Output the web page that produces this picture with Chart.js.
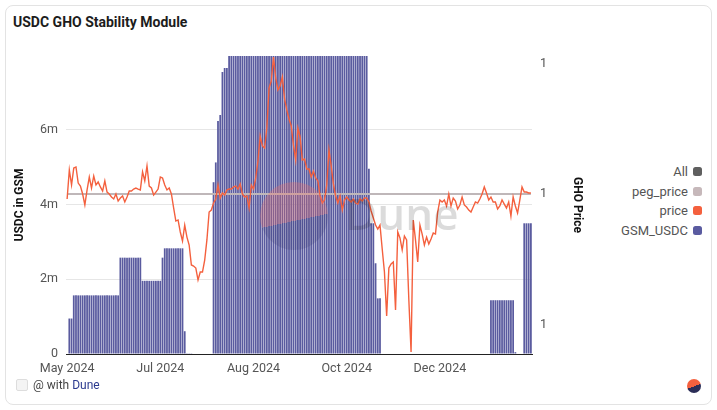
<!DOCTYPE html>
<html>
<head>
<meta charset="utf-8">
<script src="https://cdn.jsdelivr.net/npm/chart.js@4.4.1/dist/chart.umd.min.js"></script>
<style>
html,body{margin:0;padding:0;background:#fff;width:717px;height:410px;overflow:hidden;font-family:Roboto,"Open Sans",sans-serif;}
.card{position:absolute;left:5px;top:5px;width:707px;height:400px;border:1px solid #e3e3e3;border-radius:8px;box-sizing:border-box;}
.title{position:absolute;left:13px;top:14px;font-size:14px;font-weight:700;color:#1c1c1c;letter-spacing:0;}
#wrap{position:absolute;left:0;top:40px;width:600px;height:340px;}
.legend{position:absolute;right:15px;top:162px;font-size:13px;color:#555;}
.legend .item{display:flex;justify-content:flex-end;align-items:center;height:19.5px;}
.legend .sw{width:9px;height:9px;border-radius:2.5px;margin-left:5px;}
.footer{position:absolute;left:16px;top:378px;font-size:12px;color:#444;display:flex;align-items:center;}
.footer .ic{width:10px;height:10px;border:1px solid #ddd;background:#f4f4f4;border-radius:2px;margin-right:5px;}
.footer .dn{color:#2b3a8f;margin-left:3px;}
.logo{position:absolute;left:687px;top:379px;width:14px;height:14px;border-radius:50%;background:linear-gradient(160deg,#f4603e 52%,#2b2d57 52%);}
.wm-circle{position:absolute;left:260px;top:182px;width:68px;height:68px;border-radius:50%;background:linear-gradient(168deg,rgba(244,110,100,0.30) 56%,rgba(40,40,95,0.16) 56%);pointer-events:none;}
.wm-text{position:absolute;left:345px;top:183px;font-size:44px;font-weight:600;color:rgba(0,0,0,0.14);pointer-events:none;font-family:"Open Sans",Roboto,sans-serif;}
</style>
</head>
<body>
<div class="card"></div>
<div class="title">USDC GHO Stability Module</div>
<div id="wrap"><canvas id="c" width="600" height="340"></canvas></div>
<div class="wm-circle"></div>
<div class="wm-text">Dune</div>
<div class="legend">
  <div class="item">All<span class="sw" style="background:#5f5f5f"></span></div>
  <div class="item">peg_price<span class="sw" style="background:#c6b8ba"></span></div>
  <div class="item">price<span class="sw" style="background:#f4603e"></span></div>
  <div class="item">GSM_USDC<span class="sw" style="background:#5a5ba0"></span></div>
</div>
<div class="footer"><span class="ic"></span>@ with<span class="dn">Dune</span></div>
<div class="logo"></div>
<script>
const tickLabels = ["May 2024","Jul 2024","Aug 2024","Oct 2024","Dec 2024"];
const tickEvery = 42;
const leftTicks = [0, 2000000, 4000000, 6000000];
const rightTicks = [0.99, 1.00, 1.01];

const price = [
0.99962,1.00184,1.00069,1.00199,1.00207,1.00084,1.00061,1.00000,0.99916,1.00031,
1.00130,1.00046,1.00138,1.00069,1.00092,1.00054,1.00023,1.00100,1.00015,1.00000,
0.99977,0.99962,1.00000,0.99946,0.99969,0.99985,0.99939,0.99977,1.00023,1.00023,
1.00038,1.00046,1.00038,1.00031,1.00169,1.00100,1.00215,1.00061,1.00046,0.99992,
1.00015,1.00038,1.00130,1.00123,1.00069,1.00031,1.00046,1.00000,0.99893,0.99793,
0.99801,0.99709,0.99640,0.99762,0.99670,0.99609,0.99456,0.99448,0.99433,0.99341,
0.99402,0.99402,0.99494,0.99648,0.99862,0.99877,0.99931,0.99962,1.00069,0.99969,
1.00008,0.99992,1.00031,1.00038,1.00038,1.00054,1.00061,1.00038,1.00077,1.00000,
0.99977,0.99985,0.99893,1.00069,1.00038,1.00123,1.00253,1.00444,1.00368,1.00352,
1.00506,1.00812,1.00866,1.01050,1.00889,1.00797,1.00828,1.00897,1.00728,1.00644,
1.00575,1.00521,1.00375,1.00261,1.00506,1.00437,1.00261,1.00268,1.00192,1.00192,
1.00130,1.00176,1.00123,1.00100,0.99985,0.99931,0.99954,1.00069,1.00337,1.00215,
1.00077,0.99985,0.99931,0.99985,0.99877,0.99954,0.99977,0.99954,0.99939,0.99962,
0.99931,0.99923,0.99962,0.99946,0.99969,0.99969,0.99939,0.99870,0.99816,0.99762,
0.99732,0.99762,0.99579,0.99402,0.99065,0.99433,0.99464,0.99479,0.99111,0.99709,
0.99663,0.99571,0.99678,0.99648,0.99188,0.98789,0.99801,0.99648,0.99479,0.99762,
0.99693,0.99609,0.99670,0.99617,0.99655,0.99701,0.99693,0.99862,0.99954,0.99939,
0.99954,0.99908,1.00000,0.99908,0.99969,0.99946,0.99885,0.99916,0.99977,0.99916,
0.99900,0.99877,0.99862,0.99900,0.99939,0.99931,0.99962,1.00000,1.00054,1.00008,
0.99954,0.99977,0.99939,0.99939,0.99885,0.99908,0.99954,0.99923,0.99893,0.99939,
0.99831,0.99977,0.99908,0.99854,0.99954,1.00054,1.00015,1.00015,1.00008,1.00008
];

const pegPrice = [
1,1,1,1,1,1,1,1,1,1,1,1,1,1,1,1,1,1,1,1,1,1,1,1,1,1,1,1,1,1,
1,1,1,1,1,1,1,1,1,1,1,1,1,1,1,1,1,1,1,1,1,1,1,1,1,1,1,1,1,1,
1,1,1,1,1,1,1,1,1,1,1,1,1,1,1,1,1,1,1,1,1,1,1,1,1,1,1,1,1,1,
1,1,1,1,1,1,1,1,1,1,1,1,1,1,1,1,1,1,1,1,1,1,1,1,1,1,1,1,1,1,
1,1,1,1,1,1,1,1,1,1,1,1,1,1,1,1,1,1,1,1,1,1,1,1,1,1,1,1,1,1,
1,1,1,1,1,1,1,1,1,1,1,1,1,1,1,1,1,1,1,1,1,1,1,1,1,1,1,1,1,1,
1,1,1,1,1,1,1,1,1,1,1,1,1,1,1,1,1,1,1,1,1,1,1,1,1,1,1,1,1,1
];

const gsmUsdc = [
0,950000,950000,1570000,1570000,1570000,1570000,1570000,1570000,1570000,
1570000,1570000,1570000,1570000,1570000,1570000,1570000,1570000,1570000,1570000,
1570000,1570000,1570000,1570000,2580000,2580000,2580000,2580000,2580000,2580000,
2580000,2580000,2580000,2580000,1960000,1960000,1960000,1960000,1960000,1960000,
1960000,1960000,1960000,2580000,2830000,2830000,2830000,2830000,2830000,2830000,
2830000,2830000,2830000,610000,20000,20000,20000,0,0,0,
0,0,0,0,0,0,4600000,5130000,6240000,6400000,
7550000,7660000,7660000,8600000,9100000,9400000,9800000,10200000,10500000,10800000,
11000000,11200000,11300000,11500000,11600000,11800000,12000000,12100000,12300000,12400000,
12500000,12600000,12600000,12700000,12700000,12800000,12800000,12700000,12600000,12500000,
12400000,12300000,12200000,12000000,11900000,11800000,11600000,11500000,11300000,11200000,
11000000,10900000,10800000,10600000,10500000,10300000,10200000,10000000,9900000,9800000,
9600000,9500000,9400000,9300000,9100000,9000000,8900000,8800000,8700000,8600000,
8500000,8400000,8300000,8200000,8100000,8050000,4960000,3500000,3500000,2430000,
1490000,1490000,0,0,0,0,0,0,0,0,
0,0,0,0,0,0,0,0,0,0,
0,0,0,0,0,0,0,0,0,0,
0,0,0,0,0,0,0,0,0,0,
0,0,0,0,0,0,0,0,0,0,
0,1440000,1440000,1440000,1440000,1440000,1440000,1440000,1440000,1440000,
1440000,1440000,50000,0,0,0,3500000,3500000,3500000,3500000
];

const categories = price.map((_, i) => (i % tickEvery === 0 ? tickLabels[i / tickEvery] : "d" + i));

const FONT = "Roboto, 'Open Sans', sans-serif";

new Chart(document.getElementById('c'), {
  data: {
    labels: categories,
    datasets: [
      { type: 'line', label: 'price', data: price, yAxisID: 'y1', borderColor: '#f4603e', borderWidth: 1.4, pointRadius: 0, tension: 0, order: 1 },
      { type: 'line', label: 'peg_price', data: pegPrice, yAxisID: 'y1', borderColor: '#bfb7b9', borderWidth: 2, pointRadius: 0, order: 2 },
      { type: 'bar', label: 'GSM_USDC', data: gsmUsdc, yAxisID: 'y', backgroundColor: '#5a5b9f', barPercentage: 0.8, categoryPercentage: 1.0, order: 3 }
    ]
  },
  options: {
    responsive: false,
    animation: false,
    events: [],
    layout: { padding: { left: 0, right: 15.8, top: 16, bottom: 0 } },
    plugins: { legend: { display: false }, tooltip: { enabled: false } },
    scales: {
      x: {
        type: 'category',
        offset: true,
        grid: { display: false, drawTicks: false },
        border: { display: true, color: '#222', width: 1 },
        ticks: {
          autoSkip: false, maxRotation: 0, padding: 7, color: '#555',
          font: { size: 12.5, family: FONT },
          callback: (v, i) => (i % tickEvery === 0 ? tickLabels[i / tickEvery] : '')
        },
        afterFit: s => { s.height = 26; }
      },
      y: {
        position: 'left',
        min: 0, max: 7980000,
        afterBuildTicks: s => { s.ticks = leftTicks.map(v => ({ value: v })); },
        grid: { color: c => (c.tick && c.tick.value === 0 ? 'rgba(0,0,0,0)' : '#e6e6e6'), drawTicks: false },
        border: { display: false },
        ticks: { padding: 8, color: '#555', font: { size: 12.5, family: FONT },
          callback: v => (v === 0 ? '0' : (v / 1000000) + 'm') },
        title: { display: true, text: 'USDC in GSM', color: '#111', font: { size: 12, weight: 'bold', family: FONT }, padding: { top: 13, bottom: 0 } },
        afterFit: s => { s.width = 66; }
      },
      y1: {
        position: 'right',
        min: 0.98774, max: 1.010575,
        afterBuildTicks: s => { s.ticks = rightTicks.map(v => ({ value: v })); },
        grid: { display: false, drawTicks: false },
        border: { display: false },
        ticks: { padding: 8, color: '#555', font: { size: 12.5, family: FONT },
          callback: v => String(Math.round(v)) },
        title: { display: true, text: 'GHO Price', color: '#111', font: { size: 12, weight: 'bold', family: FONT }, padding: { top: 0, bottom: 0 } },
        afterFit: s => { s.width = 52.2; }
      }
    }
  }
});
</script>
</body>
</html>
